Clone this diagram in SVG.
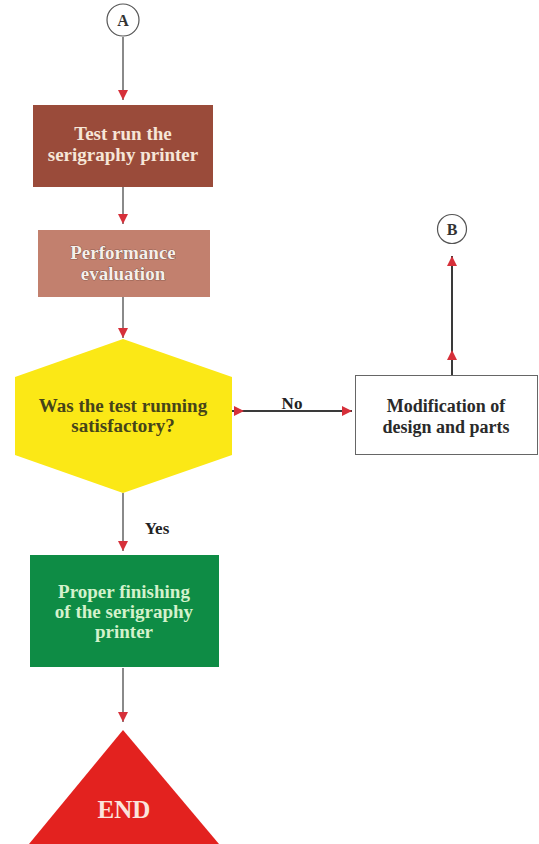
<svg xmlns="http://www.w3.org/2000/svg" width="539" height="844" viewBox="0 0 539 844">
<style>
.t{font-family:"Liberation Serif","Times New Roman",serif;font-weight:bold;text-anchor:middle}
.ln{fill:none;stroke:#8a8a8a;stroke-width:2}
.dk{fill:none;stroke:#3a3a3a;stroke-width:2}
</style>
<defs>
<marker id="ah" viewBox="0 0 10 10" refX="10" refY="5" markerWidth="10" markerHeight="10" markerUnits="userSpaceOnUse" orient="auto">
<path d="M0,0 L10,5 L0,10 z" fill="#d6303a"/>
</marker>
</defs>
<rect width="539" height="844" fill="#ffffff"/>
<g id="connectors">
<path class="ln" d="M123,37 L123,100" marker-end="url(#ah)"/>
<path class="ln" d="M123,187 L123,224" marker-end="url(#ah)"/>
<path class="ln" d="M123,297 L123,338" marker-end="url(#ah)"/>
<path class="dk" d="M232,411 L244,411 L352,411" marker-mid="url(#ah)" marker-end="url(#ah)"/>
<path class="dk" d="M452,375 L452,350 L452,256" marker-mid="url(#ah)" marker-end="url(#ah)"/>
<path class="ln" d="M123,493 L123,551" marker-end="url(#ah)"/>
<path class="ln" d="M123,668 L123,722" marker-end="url(#ah)"/>
<text class="t" x="292" y="409" font-size="17" fill="#222">No</text>
<text class="t" x="157" y="534" font-size="17" fill="#222">Yes</text>
</g>
<g id="A">
<circle cx="123" cy="20" r="16" fill="#fff" stroke="#555" stroke-width="1.2"/>
<text class="t" x="123" y="26" font-size="16" fill="#333">A</text>
</g>
<g id="test-run">
<rect x="33" y="105" width="180" height="82" fill="#9a4b3a"/>
<text class="t" x="123" y="140" font-size="19" fill="#f6e6d8">Test run the</text>
<text class="t" x="123" y="161" font-size="19" fill="#f6e6d8">serigraphy printer</text>
</g>
<g id="performance">
<rect x="38" y="230" width="172" height="67" fill="#c2806e"/>
<text class="t" x="123" y="259" font-size="19" fill="#f6efea" stroke="#5a3a30" stroke-width="0.7" paint-order="stroke">Performance</text>
<text class="t" x="123" y="280" font-size="19" fill="#f6efea" stroke="#5a3a30" stroke-width="0.7" paint-order="stroke">evaluation</text>
</g>
<g id="decision">
<polygon points="123,339 232,377 232,455 123,493 15,455 15,377" fill="#fbe816"/>
<text class="t" x="123" y="412" font-size="19" fill="#46441a">Was the test running</text>
<text class="t" x="123" y="432" font-size="19" fill="#46441a">satisfactory?</text>
</g>
<g id="modification">
<rect x="355.5" y="375.5" width="182" height="79" fill="#fff" stroke="#666" stroke-width="1"/>
<text class="t" x="446" y="412" font-size="18" fill="#2a2a2a">Modification of</text>
<text class="t" x="446" y="433" font-size="18" fill="#2a2a2a">design and parts</text>
</g>
<g id="B">
<circle cx="452" cy="229" r="14.5" fill="#fff" stroke="#555" stroke-width="1.2"/>
<text class="t" x="452" y="235" font-size="16" fill="#333">B</text>
</g>
<g id="finishing">
<rect x="30" y="555" width="189" height="112" fill="#0e8c45"/>
<text class="t" x="124" y="598" font-size="19" fill="#d4f2cc">Proper finishing</text>
<text class="t" x="124" y="618" font-size="19" fill="#d4f2cc">of the serigraphy</text>
<text class="t" x="124" y="638" font-size="19" fill="#d4f2cc">printer</text>
</g>
<g id="end">
<polygon points="123,730 219,844 29,844" fill="#e3221f"/>
<text class="t" x="124" y="818" font-size="25" fill="#fbe4dc">END</text>
</g>
</svg>
